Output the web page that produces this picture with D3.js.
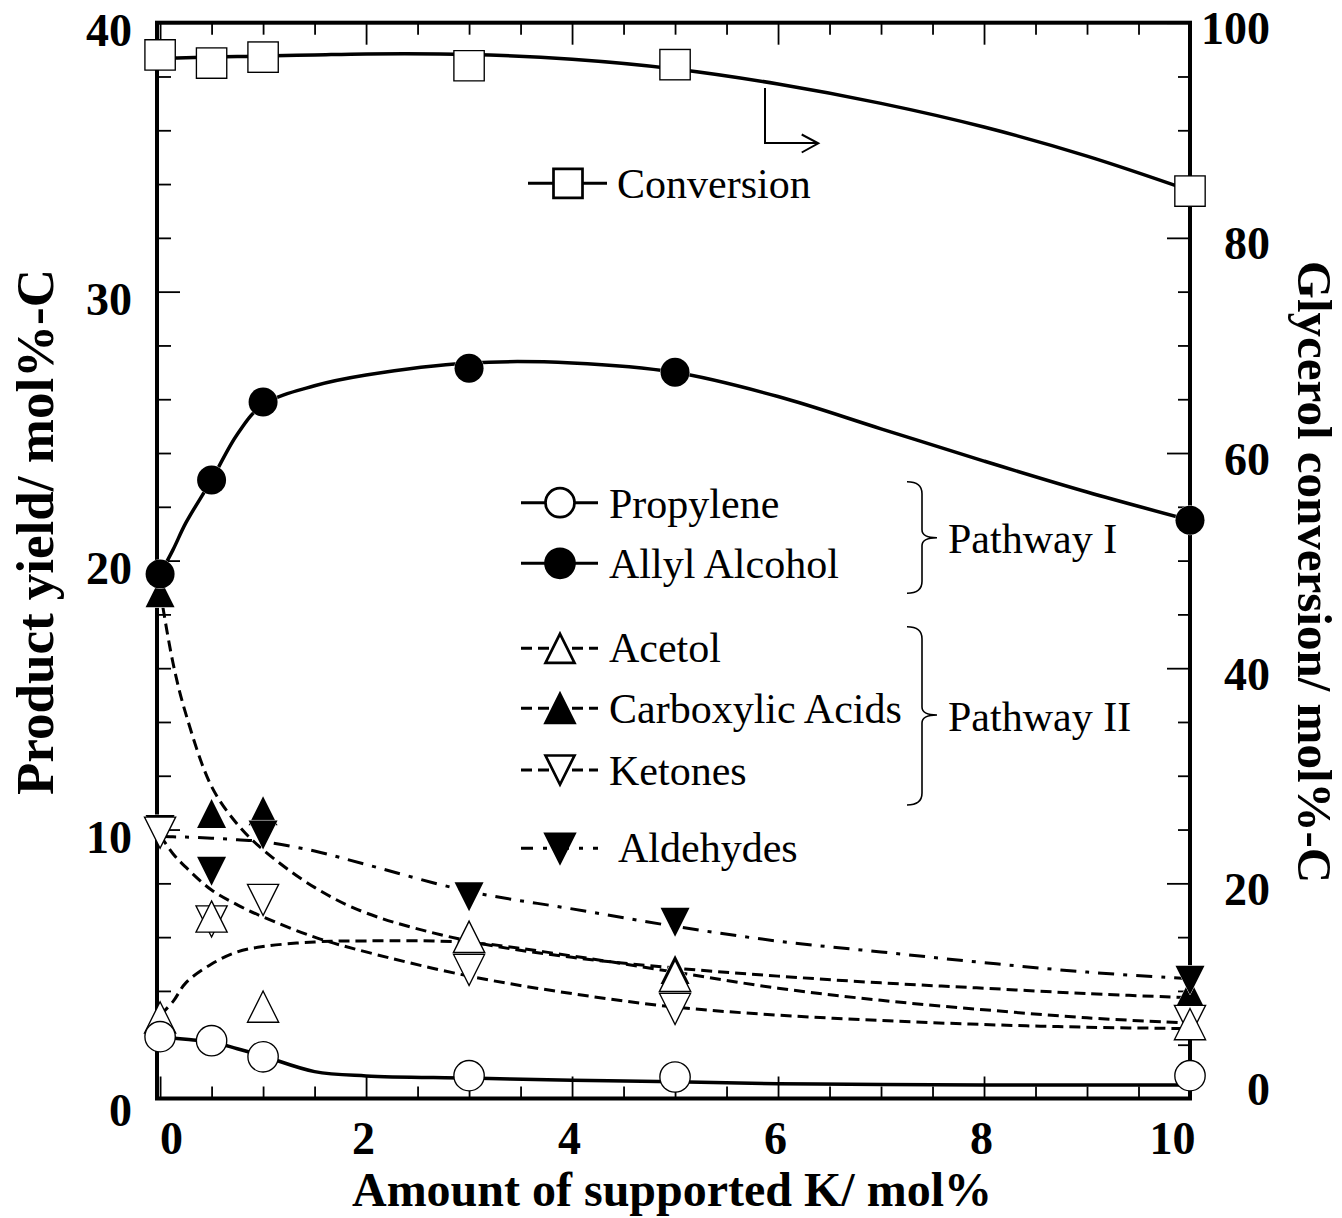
<!DOCTYPE html>
<html lang="en">
<head>
    <meta charset="UTF-8">
    <title>Product yield vs supported K</title>
    <script src="https://cdn.jsdelivr.net/npm/d3@7/dist/d3.min.js"></script>
    <style>
        body { margin: 0; background: #fff; }
        #mainsvg { display: block; }
        text { font-family: "Liberation Serif", "Times New Roman", serif; fill: #000; }
    </style>
</head>
<body>
    <svg width="1342" height="1218" id="mainsvg"></svg>
    <script>
        // measured points
        const kAmount = [0, 0.5, 1, 3, 5, 10];
        const conversion = [97.0, 96.25, 96.8, 96.0, 96.1, 84.35];
        const propylene = [2.3, 2.15, 1.55, 0.85, 0.8, 0.85];
        const allylAlcohol = [19.5, 23.0, 25.9, 27.15, 27.0, 21.5];
        const acetol = [3.0, 6.75, 3.4, 6.0, 4.55, 2.75];
        const carboxylicAcids = [18.8, 10.6, 10.7, 6.0, 4.8, 3.9];
        const ketones = [9.9, 6.6, 7.4, 4.8, 3.35, 2.9];
        const aldehydes = [10.0, 8.45, 9.8, 7.5, 6.55, 4.4];

        // hand-drawn trend lines
        const fitK = [0, 0.125, 0.25, 0.5, 0.75, 1, 1.5, 2, 3, 4, 5, 6, 7, 8, 9, 10];
        const conversionFit = [96.7, 96.72, 96.75, 96.8, 96.85, 96.9, 97.0, 97.1, 97.05, 96.6, 95.7, 94.3, 92.5, 90.3, 87.6, 84.4];
        const propyleneFit = [2.3, 2.25, 2.2, 2.1, 1.85, 1.58, 1.0, 0.84, 0.76, 0.68, 0.62, 0.55, 0.52, 0.5, 0.5, 0.5];
        const allylFit = [19.5, 20.4, 21.4, 23.0, 24.7, 25.8, 26.5, 26.9, 27.35, 27.35, 27.0, 26.1, 24.9, 23.7, 22.55, 21.5];
        const acetolFit = [3.1, 3.6, 4.3, 5.0, 5.45, 5.65, 5.82, 5.86, 5.8, 5.3, 4.7, 4.1, 3.65, 3.3, 3.0, 2.8];
        const carboxylicFit = [18.9, 16.2, 14.3, 11.6, 10.2, 9.25, 7.85, 6.9, 5.85, 5.25, 4.85, 4.55, 4.3, 4.1, 3.9, 3.75];
        const ketonesFit = [9.8, 9.1, 8.6, 7.75, 7.2, 6.75, 6.0, 5.45, 4.55, 3.9, 3.4, 3.1, 2.9, 2.75, 2.65, 2.6];
        const aldehydesFit = [9.75, 9.73, 9.72, 9.68, 9.62, 9.55, 9.2, 8.7, 7.7, 7.05, 6.4, 5.85, 5.45, 5.05, 4.7, 4.45];

        const xMajor = [0, 2, 4, 6, 8, 10];
        const xMinor = d3.range(0, 10.01, 0.5).filter(v => v % 2 !== 0);
        const yLMajor = [0, 10, 20, 30, 40];
        const yLMinor = d3.range(0, 40.1, 2).filter(v => v % 10 !== 0);
        const yRMajor = [0, 20, 40, 60, 80, 100];
        const yRMinor = d3.range(0, 100.1, 5).filter(v => v % 20 !== 0);

        const svg = d3.select('svg');
        const pL = 157, pR = 1190, pT = 22.7, pB = 1098.5;

        const x = d3.scaleLinear().domain([-0.03, 10]).range([pL, pR]);
        const yL = d3.scaleLinear().domain([0, 40]).range([pB, pT]);
        const yR = d3.scaleLinear().domain([0, 100]).range([pB, pT]);

        function styleAxis(g) {
            g.attr('font-family', null).attr('font-size', null);
            g.select('.domain').remove();
            g.selectAll('.tick line').attr('stroke', '#000').attr('stroke-width', 1.8);
        }

        // ticks
        svg.append('g').attr('transform', `translate(0,${pB})`)
            .call(d3.axisBottom(x).tickValues(xMinor).tickSize(-12).tickFormat(''))
            .call(styleAxis);
        const bx = svg.append('g').attr('transform', `translate(0,${pB})`)
            .call(d3.axisBottom(x).tickValues(xMajor).tickSize(-22))
            .call(styleAxis);
        bx.selectAll('.tick text')
            .attr('y', 55).attr('dy', 0)
            .attr('x', d => d === 0 ? 11 : d === 10 ? -18 : -3)
            .attr('font-size', 46).attr('font-weight', 'bold');

        svg.append('g').attr('transform', `translate(0,${pT})`)
            .call(d3.axisTop(x).tickValues(xMinor).tickSize(-12).tickFormat(''))
            .call(styleAxis);
        svg.append('g').attr('transform', `translate(0,${pT})`)
            .call(d3.axisTop(x).tickValues(xMajor).tickSize(-22).tickFormat(''))
            .call(styleAxis);

        svg.append('g').attr('transform', `translate(${pL},0)`)
            .call(d3.axisLeft(yL).tickValues(yLMinor).tickSize(-14).tickFormat(''))
            .call(styleAxis);
        const ly = svg.append('g').attr('transform', `translate(${pL},0)`)
            .call(d3.axisLeft(yL).tickValues(yLMajor).tickSize(-23))
            .call(styleAxis);
        ly.selectAll('.tick text')
            .attr('x', -25).attr('dy', 0)
            .attr('y', d => d === 0 ? 27 : 23)
            .attr('font-size', 46).attr('font-weight', 'bold');

        svg.append('g').attr('transform', `translate(${pR},0)`)
            .call(d3.axisRight(yR).tickValues(yRMinor).tickSize(-12).tickFormat(''))
            .call(styleAxis);
        const ry = svg.append('g').attr('transform', `translate(${pR},0)`)
            .call(d3.axisRight(yR).tickValues(yRMajor).tickSize(-23))
            .call(styleAxis);
        ry.selectAll('.tick text')
            .attr('x', 80).attr('dy', 0)
            .attr('text-anchor', 'end')
            .attr('y', d => d === 0 ? 6 : 21)
            .attr('font-size', 46).attr('font-weight', 'bold');

        // frame
        svg.append('rect')
            .attr('x', pL).attr('y', pT)
            .attr('width', pR - pL).attr('height', pB - pT)
            .attr('fill', 'none').attr('stroke', '#000').attr('stroke-width', 4);

        // axis titles
        svg.append('text')
            .attr('x', 672).attr('y', 1206)
            .attr('text-anchor', 'middle')
            .attr('font-size', 48).attr('font-weight', 'bold')
            .text('Amount of supported K/ mol%');
        svg.append('text')
            .attr('transform', 'translate(53,532) rotate(-90)')
            .attr('text-anchor', 'middle')
            .attr('font-size', 53).attr('font-weight', 'bold')
            .text('Product yield/ mol%-C');
        svg.append('text')
            .attr('transform', 'translate(1298,572) rotate(90)')
            .attr('text-anchor', 'middle')
            .attr('font-size', 49).attr('font-weight', 'bold')
            .text('Glycerol conversion/ mol%-C');

        // series definitions
        const solid = null, dashed = '11,6', dashDot = '16,9,4,9';
        const series = [
            {name: 'Carboxylic Acids', vals: carboxylicAcids, fit: carboxylicFit, y: yL, shape: 'up', fill: '#000', dash: dashed},
            {name: 'Aldehydes', vals: aldehydes, fit: aldehydesFit, y: yL, shape: 'down', fill: '#000', dash: dashDot},
            {name: 'Ketones', vals: ketones, fit: ketonesFit, y: yL, shape: 'down', fill: '#fff', dash: dashed},
            {name: 'Acetol', vals: acetol, fit: acetolFit, y: yL, shape: 'up', fill: '#fff', dash: dashed},
            {name: 'Propylene', vals: propylene, fit: propyleneFit, y: yL, shape: 'circle', fill: '#fff', dash: solid},
            {name: 'Allyl Alcohol', vals: allylAlcohol, fit: allylFit, y: yL, shape: 'circle', fill: '#000', dash: solid},
            {name: 'Conversion', vals: conversion, fit: conversionFit, y: yR, shape: 'square', fill: '#fff', dash: solid}
        ];

        function shapePath(shape) {
            const h = 14.5;
            if (shape === 'up') return `M0,${-h}L${h},${h}L${-h},${h}Z`;
            if (shape === 'down') return `M${-h},${-h}L${h},${-h}L0,${h}Z`;
            if (shape === 'square') return `M${-h},${-h}H${h}V${h}H${-h}Z`;
            return d3.symbol().type(d3.symbolCircle).size(Math.PI * 14.5 * 14.5)();
        }

        // trend lines
        series.forEach(s => {
            const line = d3.line()
                .x(d => x(d[0]))
                .y(d => s.y(d[1]))
                .curve(d3.curveCatmullRom.alpha(0.5));
            svg.append('path')
                .datum(d3.zip(fitK, s.fit))
                .attr('d', line)
                .attr('fill', 'none')
                .attr('stroke', '#000')
                .attr('stroke-width', s.dash ? 3 : 3.5)
                .attr('stroke-dasharray', s.dash);
        });

        // markers
        series.forEach(s => {
            svg.append('g').selectAll('path')
                .data(d3.zip(kAmount, s.vals))
                .join('path')
                .attr('transform', d => `translate(${x(d[0])},${s.y(d[1])})`)
                .attr('d', shapePath(s.shape))
                .attr('fill', s.fill)
                .attr('stroke', s.fill === '#000' ? '#fff' : '#000')
                .attr('stroke-width', s.fill === '#000' ? 1 : 2.7)
                .attr('paint-order', 'stroke');
        });

        // legends
        const byName = Object.fromEntries(series.map(s => [s.name, s]));
        const legendItems = [
            {name: 'Conversion', ly: 183.3, ty: 198.3, tx: 617, x0: 528, x1: 607, mx: 568},
            {name: 'Propylene', ly: 502.7, ty: 518.3, tx: 609, x0: 521, x1: 598, mx: 560},
            {name: 'Allyl Alcohol', ly: 563.3, ty: 578.3, tx: 609, x0: 521, x1: 598, mx: 560},
            {name: 'Acetol', ly: 648.3, ty: 661.7, tx: 609, x0: 521, x1: 598, mx: 560},
            {name: 'Carboxylic Acids', ly: 708.3, ty: 723.3, tx: 609, x0: 521, x1: 598, mx: 560},
            {name: 'Ketones', ly: 770, ty: 785, tx: 609, x0: 521, x1: 598, mx: 560},
            {name: 'Aldehydes', ly: 848.3, ty: 861.7, tx: 618, x0: 521, x1: 598, mx: 560}
        ];
        const leg = svg.append('g');
        legendItems.forEach(it => {
            const s = byName[it.name];
            leg.append('line')
                .attr('x1', it.x0).attr('x2', it.x1)
                .attr('y1', it.ly).attr('y2', it.ly)
                .attr('stroke', '#000').attr('stroke-width', 3)
                .attr('stroke-dasharray', s.dash === dashDot ? '12,10,4,10' : s.dash === dashed ? '11,6' : null);
            leg.append('path')
                .attr('transform', `translate(${it.mx},${it.ly})`)
                .attr('d', shapePath(s.shape))
                .attr('fill', s.fill).attr('stroke', '#000').attr('stroke-width', 2.7);
            leg.append('text')
                .attr('x', it.tx).attr('y', it.ty)
                .attr('font-size', 42)
                .text(it.name);
        });

        // braces for pathway groups
        function brace(xl, xm, xt, y0, y1, ym) {
            return `M${xl},${y0} Q${xm},${y0} ${xm},${y0 + 12}` +
                   `L${xm},${ym - 8} Q${xm},${ym} ${xt},${ym}` +
                   `Q${xm},${ym} ${xm},${ym + 8}` +
                   `L${xm},${y1 - 12} Q${xm},${y1} ${xl},${y1}`;
        }
        const braces = [
            {label: 'Pathway I', y0: 481.7, y1: 593.3, ym: 537.7, ty: 552.7},
            {label: 'Pathway II', y0: 626.7, y1: 805, ym: 715, ty: 730.7}
        ];
        braces.forEach(b => {
            svg.append('path')
                .attr('d', brace(907, 922, 937, b.y0, b.y1, b.ym))
                .attr('fill', 'none').attr('stroke', '#000').attr('stroke-width', 1.6);
            svg.append('text')
                .attr('x', 948).attr('y', b.ty)
                .attr('font-size', 42)
                .text(b.label);
        });

        // arrow pointing to the right axis
        svg.append('path')
            .attr('d', 'M765,88V143H818M801.7,134.5L818.3,143.3L801.7,152.5')
            .attr('fill', 'none').attr('stroke', '#000').attr('stroke-width', 2);
    </script>
</body>
</html>
